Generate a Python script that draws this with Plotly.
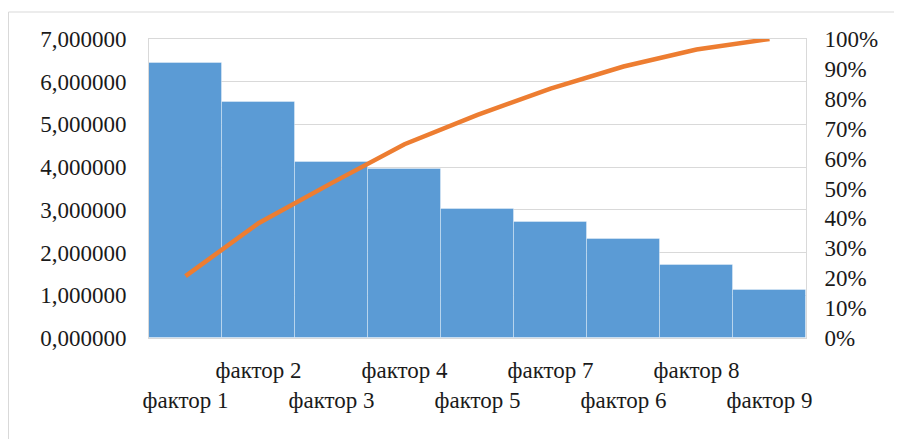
import plotly.graph_objects as go

categories = ["фактор 1", "фактор 2", "фактор 3", "фактор 4", "фактор 5",
              "фактор 7", "фактор 6", "фактор 8", "фактор 9"]
values = [6.43, 5.52, 4.11, 3.96, 3.01, 2.72, 2.31, 1.71, 1.12]
cumulative_pct = [20.7, 38.4, 51.8, 64.8, 74.6, 83.4, 90.8, 96.5, 100.0]
left_ticks = [0, 1, 2, 3, 4, 5, 6, 7]
right_ticks = [0, 10, 20, 30, 40, 50, 60, 70, 80, 90, 100]
right_tick_text = [f"{v}%" for v in right_ticks]

# staggered tick labels: odd positions on lower row
tick_text = [c if i % 2 == 1 else "<br>" + c for i, c in enumerate(categories)]

FONT = "Liberation Serif"
# page body has an 8px margin, so the figure is offset by 8px
W, H = 894, 431
L, R, T, B = 141, 96, 31, 101

fig = go.Figure()
fig.add_trace(go.Bar(
    x=categories, y=values,
    marker=dict(color="#5B9BD5", line=dict(color="rgba(255,255,255,0.35)", width=1)),
    yaxis="y", showlegend=False,
))
fig.add_trace(go.Scatter(
    x=categories, y=cumulative_pct, mode="lines",
    line=dict(color="#ED7D31", width=4.5),
    yaxis="y2", showlegend=False,
))

pw = W - L - R
ph = H - T - B
fig.add_shape(type="rect", xref="paper", yref="paper",
              x0=(0.5 - L) / pw, x1=(W + 10 - L) / pw,
              y0=-(H + 10 - (H - B)) / ph, y1=1 + (T - 4) / ph,
              line=dict(color="#D9D9D9", width=1), fillcolor="rgba(0,0,0,0)", layer="below")

fig.update_layout(
    width=W, height=H,
    margin=dict(l=L, r=R, t=T, b=B, pad=0, autoexpand=False),
    paper_bgcolor="white", plot_bgcolor="white",
    separators=", ",
    bargap=0,
    font=dict(family=FONT, size=23, color="#1a1a1a"),
    xaxis=dict(
        type="category", automargin=False,
        tickmode="array", tickvals=categories, ticktext=tick_text, tickangle=0,
        showline=True, linecolor="#D9D9D9", linewidth=1, mirror=True,
        showgrid=False, ticks="", ticklabelstandoff=11,
        tickfont=dict(family=FONT, size=23, color="#1a1a1a"),
    ),
    yaxis=dict(
        range=[0, 7], tickmode="array", tickvals=left_ticks, tickformat=".6f",
        automargin=False,
        showgrid=True, gridcolor="#D9D9D9", gridwidth=1,
        showline=True, linecolor="#D9D9D9", linewidth=1,
        zeroline=False, ticks="", ticklabelstandoff=17,
        tickfont=dict(family=FONT, size=23, color="#1a1a1a"),
    ),
    yaxis2=dict(
        range=[0, 100], overlaying="y", side="right", automargin=False,
        tickmode="array", tickvals=right_ticks, ticktext=right_tick_text,
        showgrid=False, showline=True, linecolor="#D9D9D9", linewidth=1,
        zeroline=False, ticks="", ticklabelstandoff=13,
        tickfont=dict(family=FONT, size=23, color="#1a1a1a"),
    ),
)

fig.write_html("out.html")
